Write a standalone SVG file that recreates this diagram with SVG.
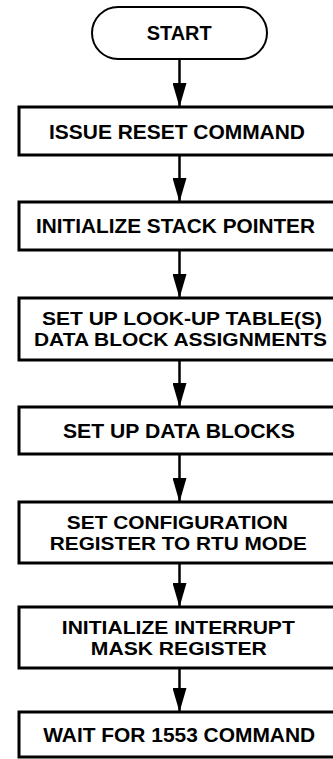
<svg xmlns="http://www.w3.org/2000/svg" width="333" height="759" viewBox="0 0 333 759">
<style>
.box{fill:#fff;stroke:#000;stroke-width:3}
.pill{fill:#fff;stroke:#000;stroke-width:2}
.t{font-family:"Liberation Sans",Arial,Helvetica,sans-serif;font-weight:bold;font-size:19.5px;fill:#000;text-anchor:middle}
.t2{font-size:18px}
.c{stroke:#000;stroke-width:2.5;fill:none;marker-end:url(#ah)}
</style>
<defs>
<marker id="ah" viewBox="0 0 24 14" markerWidth="24" markerHeight="14" refX="23" refY="7" orient="auto" markerUnits="userSpaceOnUse">
<path d="M0,0 L24,7 L0,14 Z" fill="#000"/>
</marker>
</defs>
<rect width="333" height="759" fill="#fff"/>
<g id="connectors">
<line class="c" x1="179.5" y1="59" x2="179.5" y2="106"/>
<line class="c" x1="179.5" y1="155" x2="179.5" y2="201"/>
<line class="c" x1="179.5" y1="250" x2="179.5" y2="297"/>
<line class="c" x1="179.5" y1="360" x2="179.5" y2="406"/>
<line class="c" x1="179.5" y1="454" x2="179.5" y2="501"/>
<line class="c" x1="179.5" y1="563" x2="179.5" y2="606"/>
<line class="c" x1="179.5" y1="668" x2="179.5" y2="711"/>
</g>
<g id="start">
<rect class="pill" x="92" y="7" width="175" height="52" rx="26" ry="26"/>
<text class="t" x="179.2" y="40" textLength="65" lengthAdjust="spacingAndGlyphs">START</text>
</g>
<g id="reset">
<rect class="box" x="19" y="107" width="322" height="48"/>
<text class="t" x="177" y="139" textLength="256" lengthAdjust="spacingAndGlyphs">ISSUE RESET COMMAND</text>
</g>
<g id="stack">
<rect class="box" x="19" y="202" width="322" height="48"/>
<text class="t" x="175.5" y="233" textLength="279" lengthAdjust="spacingAndGlyphs">INITIALIZE STACK POINTER</text>
</g>
<g id="lookup">
<rect class="box" x="19" y="298" width="322" height="62"/>
<text class="t t2" x="182" y="325" textLength="280" lengthAdjust="spacingAndGlyphs">SET UP LOOK-UP TABLE(S)</text>
<text class="t t2" x="180.5" y="346" textLength="293" lengthAdjust="spacingAndGlyphs">DATA BLOCK ASSIGNMENTS</text>
</g>
<g id="datablocks">
<rect class="box" x="19" y="407" width="322" height="47"/>
<text class="t" x="179" y="438" textLength="232" lengthAdjust="spacingAndGlyphs">SET UP DATA BLOCKS</text>
</g>
<g id="config">
<rect class="box" x="19" y="502" width="322" height="61"/>
<text class="t t2" x="177.3" y="528.5" textLength="221" lengthAdjust="spacingAndGlyphs">SET CONFIGURATION</text>
<text class="t t2" x="178.3" y="549.5" textLength="257" lengthAdjust="spacingAndGlyphs">REGISTER TO RTU MODE</text>
</g>
<g id="interrupt">
<rect class="box" x="19" y="607" width="322" height="61"/>
<text class="t t2" x="178.3" y="633.5" textLength="233" lengthAdjust="spacingAndGlyphs">INITIALIZE INTERRUPT</text>
<text class="t t2" x="178.8" y="654.5" textLength="176" lengthAdjust="spacingAndGlyphs">MASK REGISTER</text>
</g>
<g id="wait">
<rect class="box" x="19" y="712" width="322" height="45"/>
<text class="t" x="179.2" y="742" textLength="272" lengthAdjust="spacingAndGlyphs">WAIT FOR 1553 COMMAND</text>
</g>
</svg>
